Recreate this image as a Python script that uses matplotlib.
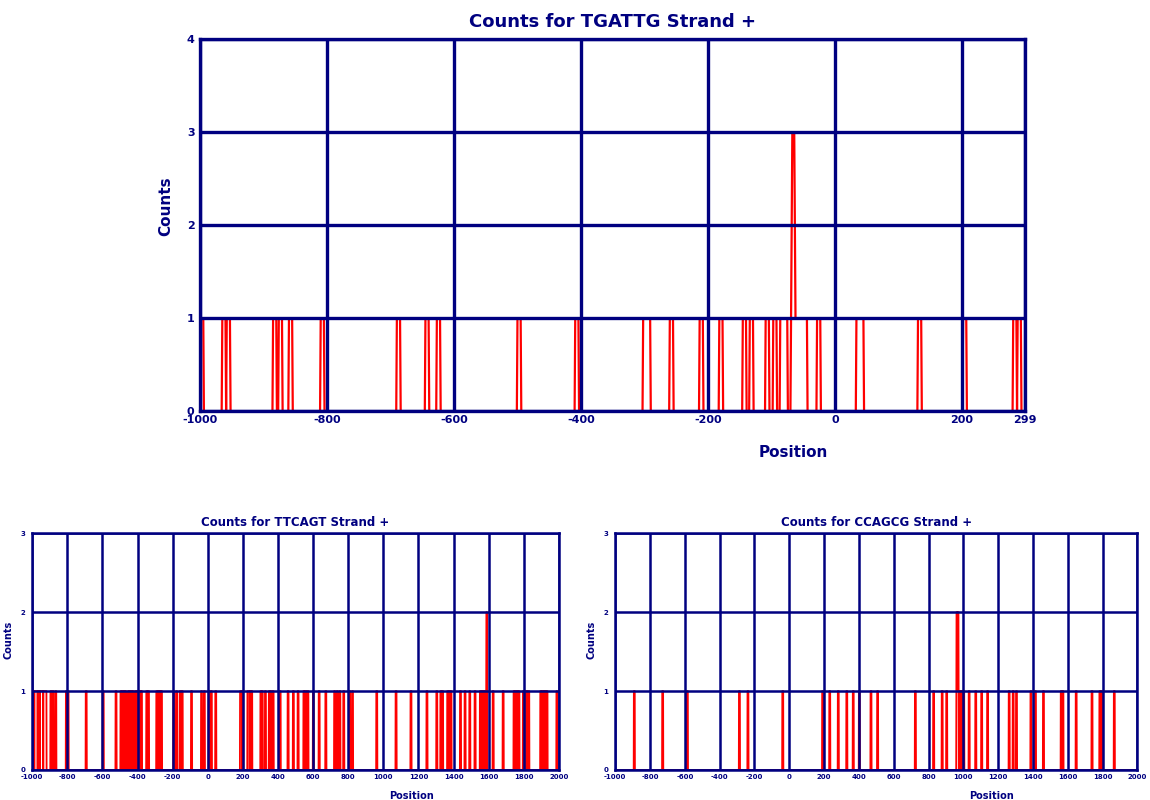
import numpy as np
import matplotlib
matplotlib.use("Agg")
import matplotlib.pyplot as plt

# motif hits: start position of every occurrence
MOTIF_LEN = 6

tgattg_starts = [-1000, -965, -958, -885, -876, -860, -810, -690, -645, -627,
                 -500, -409, -302, -296, -260, -213, -182, -145, -134, -109,
                 -97, -86, -80, -69, -68, -67, -61, -55, -49, -28, 34, 40,
                 131, 202, 281, 288]

ttcagt_starts = [-1000, -994, -987, -981, -975, -968, -962, -955, -949, -943,
                 -936, -930, -924, -896, -884, -868, -808, -798, -695, -598,
                 -525, -497, -488, -478, -470, -455, -446, -437, -428, -414,
                 -405, -396, -388, -380, -350, -340, -293, -284, -275, -266,
                 -196, -180, -160, -148, -95, -38, -22, 5, 18, 43, 184, 190,
                 197, 226, 232, 240, 248, 300, 308, 326, 348, 358, 370, 410,
                 455, 485, 512, 545, 556, 568, 599, 632, 670, 720, 735, 750,
                 772, 806, 822, 960, 1070, 1155, 1246, 1302, 1325, 1335, 1364,
                 1375, 1383, 1437, 1463, 1490, 1520, 1550, 1560, 1570, 1578,
                 1585, 1587, 1623, 1680, 1742, 1752, 1762, 1770, 1795, 1805,
                 1815, 1826, 1894, 1903, 1913, 1922, 1930, 1986]

ccagcg_starts = [-893, -730, -588, -289, -240, -40, 189, 230, 279, 328, 365,
                 400, 467, 505, 722, 827, 876, 902, 960, 961, 967, 968, 978,
                 986, 994, 1000, 1031, 1069, 1103, 1137, 1261, 1284, 1303,
                 1386, 1412, 1458, 1560, 1570, 1646, 1737, 1782, 1792, 1865]

top_ticks = [-1000, -800, -600, -400, -200, 0, 200, 299]
bottom_ticks = [-1000, -800, -600, -400, -200, 0, 200, 400, 600, 800, 1000,
                1200, 1400, 1600, 1800, 2000]

NAVY = "#000080"


def hit_counts(starts, xmin, xmax):
    pos = np.arange(xmin, xmax + 1)
    cnt = np.zeros(len(pos))
    for s in starts:
        cnt[(pos >= s) & (pos < s + MOTIF_LEN)] += 1
    return pos, cnt


def draw_panel(ax, starts, ticks, ymax, motif, big):
    pos, cnt = hit_counts(starts, ticks[0], ticks[-1])
    ax.plot(pos, cnt, color="red", lw=1.6 if big else 1.3, zorder=2)
    ax.set_xlim(ticks[0], ticks[-1])
    ax.set_ylim(0, ymax)
    ax.set_xticks(ticks)
    ax.set_xticklabels([str(t) for t in ticks])
    ax.set_yticks(range(ymax + 1))
    ax.set_axisbelow(False)
    ax.grid(True, color=NAVY, lw=2.4 if big else 1.8)
    for sp in ax.spines.values():
        sp.set_color(NAVY)
        sp.set_linewidth(2.4 if big else 1.8)
    fs = 8 if big else 5
    ax.tick_params(axis="x", length=0, labelsize=fs, labelcolor=NAVY, pad=3)
    ax.tick_params(axis="y", length=0, labelsize=fs, labelcolor=NAVY,
                   pad=4 if big else 5)
    for lab in ax.get_xticklabels() + ax.get_yticklabels():
        lab.set_fontweight("bold")
    ax.set_title("Counts for %s Strand +" % motif, color=NAVY, fontweight="bold",
                 fontsize=13 if big else 8.5, pad=9 if big else 5)
    ax.set_ylabel("Counts", color=NAVY, fontweight="bold",
                  fontsize=11 if big else 7)
    ax.set_xlabel("Position", color=NAVY, fontweight="bold",
                  fontsize=11 if big else 7)
    ax.xaxis.set_label_coords(0.72, -0.09)
    ax.yaxis.set_label_coords(-0.033 if big else -0.035, 0.55)


fig = plt.figure(figsize=(11.5, 8), dpi=100)
ax1 = fig.add_axes([0.174, 0.486, 0.717, 0.465])
ax2 = fig.add_axes([0.028, 0.0375, 0.458, 0.296])
ax3 = fig.add_axes([0.535, 0.0375, 0.454, 0.296])

draw_panel(ax1, tgattg_starts, top_ticks, 4, "TGATTG", True)
draw_panel(ax2, ttcagt_starts, bottom_ticks, 3, "TTCAGT", False)
draw_panel(ax3, ccagcg_starts, bottom_ticks, 3, "CCAGCG", False)

plt.savefig("out.png", dpi=100)
